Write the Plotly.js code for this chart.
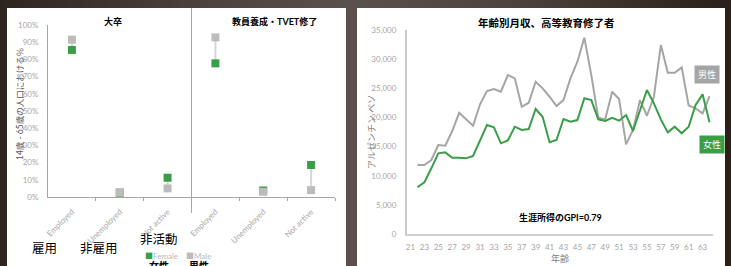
<!DOCTYPE html>
<html><head><meta charset="utf-8">
<script src="https://cdn.plot.ly/plotly-3.0.1.min.js"></script>
<style>
html,body{margin:0;padding:0;width:731px;height:266px;overflow:hidden;
background:linear-gradient(90deg,#2f2520 0%,#4a3f3a 25%,#5b514c 48%,#4d423d 70%,#2a2019 100%);}
#chart{width:731px;height:266px;}
</style></head>
<body><div id="chart"></div>
<script>
// ---- Left chart data (share of population aged 14-65) ----
const statusLabels = ['Employed','Unemployed','Not active','Employed','Unemployed','Not active'];
const groupTitles = ['大卒','教員養成・TVET修了'];
const statusJa = ['雇用','非雇用','非活動'];
const femaleShare = [0.855, 0.025, 0.112, 0.777, 0.038, 0.186];
const maleShare   = [0.915, 0.028, 0.050, 0.928, 0.030, 0.040];
const shareTicks = [0,0.1,0.2,0.3,0.4,0.5,0.6,0.7,0.8,0.9,1.0];

// ---- Right chart data (monthly income by age, tertiary graduates, ARS) ----
const ages = [22,23,24,25,26,27,28,29,30,31,32,33,34,35,36,37,38,39,40,41,42,43,44,45,46,47,48,49,50,51,52,53,54,55,56,57,58,59,60,61,62,63,64];
const maleIncome = [11835,11835,12700,15270,15150,17670,20800,19670,18580,22250,24530,24870,24410,27270,26700,21830,22520,26120,24990,23550,21950,22980,26700,29560,33680,27270,19950,19670,24410,23150,15380,17840,22980,20290,23550,32420,27670,27670,28590,22040,21560,20700,23670];
const femaleIncome = [8010,8860,11270,13840,14010,13090,13090,12980,13380,15950,18700,18300,15560,16040,18410,17840,18010,21440,20120,15730,16120,19730,19270,19550,23280,22980,19670,19410,19950,19440,20410,17670,21100,24700,22420,19670,17440,18410,17270,18410,22130,23960,19160];
const ageTicks = [21,23,25,27,29,31,33,35,37,39,41,43,45,47,49,51,53,55,57,59,61,63];
const incomeTicks = [0,5000,10000,15000,20000,25000,30000,35000];

const W = 731, H = 266;
const px = v => v / W;
const py = v => 1 - v / H;
const FONT = "Lato, 'Noto Sans CJK JP', sans-serif";
const GREEN = '#3a9d47', GRAYM = '#bcbcbc', GRAYL = '#a5a5a5';

const catX = statusLabels.map((_, i) => i + 0.5);

// connectors
const cx = [], cy = [];
catX.forEach((x, i) => { cx.push(x, x, null); cy.push(femaleShare[i], maleShare[i], null); });

const traces = [
  {x: cx, y: cy, xaxis:'x', yaxis:'y', mode:'lines', line:{color:'#d6d6d6', width:2}, hoverinfo:'skip', showlegend:false},
  {x: catX, y: femaleShare, xaxis:'x', yaxis:'y', mode:'markers', marker:{symbol:'square', size:8, color:GREEN}, name:'Female', showlegend:false},
  {x: catX, y: maleShare, xaxis:'x', yaxis:'y', mode:'markers', marker:{symbol:'square', size:8, color:GRAYM}, name:'Male', showlegend:false},
  {x: ages, y: maleIncome, xaxis:'x2', yaxis:'y2', mode:'lines', line:{color:GRAYL, width:2}, name:'男性', showlegend:false},
  {x: ages, y: femaleIncome, xaxis:'x2', yaxis:'y2', mode:'lines', line:{color:GREEN, width:2}, name:'女性', showlegend:false}
];

const tickFont = {family: FONT, size: 8, color: '#a6a6a6'};

function ann(text, x, y, font, extra) {
  return Object.assign({text: text, xref:'paper', yref:'paper', x: px(x), y: py(y),
    xanchor:'center', yanchor:'middle', showarrow:false, font: font}, extra || {});
}

const layout = {
  width: W, height: H,
  margin: {l:0, r:0, t:0, b:0},
  paper_bgcolor: 'rgba(0,0,0,0)',
  plot_bgcolor: 'rgba(0,0,0,0)',
  font: {family: FONT},
  showlegend: false,
  xaxis: {
    domain: [px(48), px(335)], range: [0, 6], anchor: 'y',
    tickvals: catX, ticktext: statusLabels, tickangle: -45, tickfont: tickFont,
    ticks: '', showgrid: false, zeroline: false,
    showline: true, linecolor: '#a6a6a6', linewidth: 1,
    minor: {tickvals: [1,2,4,5,6], ticks: 'outside', ticklen: 3, tickcolor: '#a6a6a6', showgrid:false},
    ticklabelstandoff: 6
  },
  yaxis: {
    domain: [py(197), py(25)], range: [0, 1], anchor: 'x',
    tickvals: shareTicks, tickformat: '.0%', tickfont: tickFont,
    ticks: '', showgrid: false, zeroline: false,
    showline: true, linecolor: '#a6a6a6', linewidth: 1, ticklabelstandoff: 7
  },
  xaxis2: {
    domain: [px(407), px(713)], range: [20.5, 64.5], anchor: 'y2',
    tickvals: ageTicks, tickfont: tickFont, ticks: '', showgrid: false, zeroline: false,
    showline: true, linecolor: '#d0d0d0', linewidth: 2, ticklabelstandoff: 4
  },
  yaxis2: {
    domain: [py(234), py(30)], range: [0, 35000], anchor: 'x2',
    tickvals: incomeTicks, tickformat: ',', tickfont: tickFont, ticks: '', showgrid: false, zeroline: false,
    showline: true, linecolor: '#c8c8c8', linewidth: 2, ticklabelstandoff: 7
  },
  shapes: [
    {type:'rect', xref:'paper', yref:'paper', x0:px(7), x1:px(346), y0:0, y1:py(8), fillcolor:'#ffffff', line:{width:0}, layer:'below'},
    {type:'rect', xref:'paper', yref:'paper', x0:px(357), x1:px(725), y0:0, y1:py(8), fillcolor:'#ffffff', line:{width:0}, layer:'below'},
    {type:'line', xref:'x', yref:'paper', x0:3, x1:3, y0:py(213), y1:py(8), line:{color:'#a6a6a6', width:1}}
  ],
  annotations: [
    ann('<b>'+groupTitles[0]+'</b>', 113, 21, {size:9, color:'#000'}),
    ann('<b>'+groupTitles[1]+'</b>', 274, 21, {size:9, color:'#000'}),
    ann('14歳 - 65歳の人口における％', 20, 104, {size:8.5, color:'#595959'}, {textangle:-90}),
    ann(statusJa[0], 44, 248, {size:12.5, color:'#000'}),
    ann(statusJa[1], 99, 248, {size:12.5, color:'#000'}),
    ann(statusJa[2], 159, 239, {size:12.5, color:'#000'}),
    ann('<span style="color:'+GREEN+'">■</span>Female', 161, 256, {size:8, color:'#bbbbbb'}),
    ann('<span style="color:'+GRAYM+'">■</span>Male', 198, 256, {size:8, color:'#bbbbbb'}),
    ann('<b>女性</b>', 159, 266, {size:10, color:'#000'}),
    ann('<b>男性</b>', 199, 266, {size:10, color:'#000'}),
    ann('<b>年齢別月収、高等教育修了者</b>', 546, 23, {size:10.5, color:'#000'}),
    ann('<b>生涯所得のGPI=0.79</b>', 560, 217, {size:9, color:'#000'}),
    ann('アルゼンチン ペソ', 371, 132, {size:9, color:'#808080'}, {textangle:-90}),
    ann('年齢', 560, 258, {size:9, color:'#808080'}),
    ann('男性', 707, 75, {size:9, color:'#ffffff'}, {bgcolor:GRAYL, borderpad:3}),
    ann('女性', 712, 144, {size:9, color:'#ffffff'}, {bgcolor:GREEN, borderpad:3})
  ]
};

Plotly.newPlot('chart', traces, layout, {displayModeBar:false, staticPlot:true});
</script>
</body></html>
